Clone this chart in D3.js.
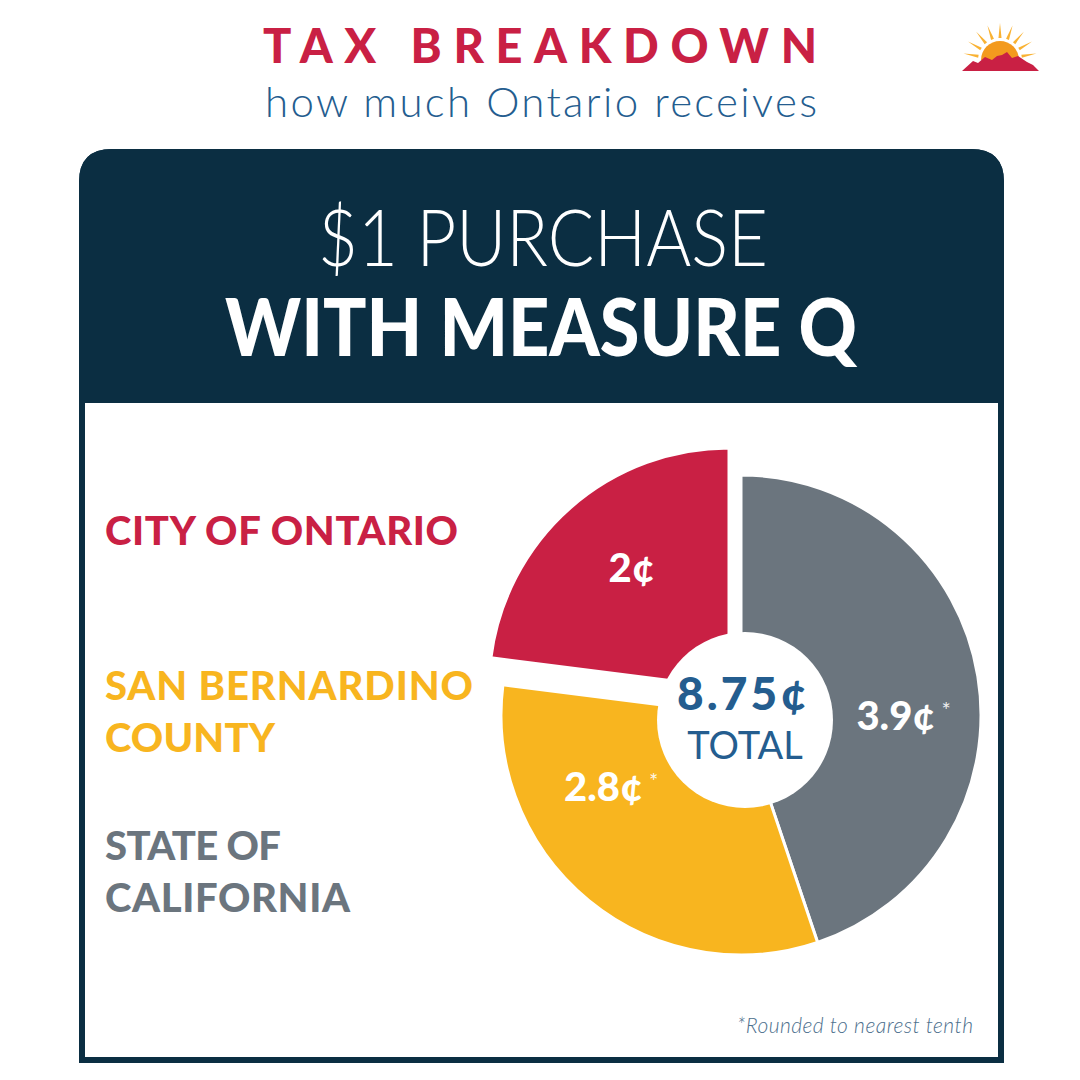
<!DOCTYPE html>
<html>
<head>
<meta charset="utf-8">
<script src="https://cdn.jsdelivr.net/npm/d3@7"></script>
<style>
  html, body { margin: 0; padding: 0; background: #fff; }
  svg { display: block; font-family: Lato, "Open Sans", sans-serif; }
</style>
</head>
<body>
<svg id="chart" width="1080" height="1080"></svg>
<script>
// chart data
var categories = ["STATE OF CALIFORNIA", "SAN BERNARDINO COUNTY", "CITY OF ONTARIO"];
var values = [3.9, 2.8, 2];
var valueLabels = ["3.9¢", "2.8¢", "2¢"];
var roundedFlags = [true, true, false];
var legendLines = [["CITY OF ONTARIO"], ["SAN BERNARDINO", "COUNTY"], ["STATE OF", "CALIFORNIA"]];
var legendKeys = ["CITY OF ONTARIO", "SAN BERNARDINO COUNTY", "STATE OF CALIFORNIA"];
var totalLabel = "8.75¢";
var totalWord = "TOTAL";
var titleText = "TAX BREAKDOWN";
var subtitleText = "how much Ontario receives";
var headLine1 = "$1 PURCHASE";
var headLine2 = "WITH MEASURE Q";
var footnote = "*Rounded to nearest tenth";

var RED = "#c92044", YELLOW = "#f8b51f", GRAY = "#6b757e", NAVY = "#0b2e42", BLUE = "#245d8f";

var color = d3.scaleOrdinal().domain(categories).range([GRAY, YELLOW, RED]);

var svg = d3.select("#chart");

// ---- title ----
svg.append("text")
  .attr("x", 263).attr("y", 63)
  .attr("textLength", 554).attr("lengthAdjust", "spacing")
  .attr("font-size", 47).attr("font-weight", 900)
  .attr("fill", RED)
  .text(titleText);

svg.append("text")
  .attr("x", 265).attr("y", 117)
  .attr("textLength", 552).attr("lengthAdjust", "spacing")
  .attr("font-size", 42).attr("font-weight", 300)
  .attr("fill", BLUE)
  .text(subtitleText);

// ---- logo (sun + mountains) ----
var logo = svg.append("g").attr("transform", "translate(1000,60)");
var rayAngles = d3.range(-80, 81, 20);
logo.selectAll("path.ray").data(rayAngles).enter().append("path")
  .attr("class", "ray")
  .attr("d", function(a) {
    var r = a * Math.PI / 180;
    var w = 0.07;
    var p = function(rad, ang) { return [rad * Math.sin(ang), -rad * Math.cos(ang)]; };
    var p1 = p(22, r - w), p2 = p(37, r), p3 = p(22, r + w);
    return "M" + p1 + "L" + p2 + "L" + p3 + "Z";
  })
  .attr("fill", "#f9b233");
logo.append("path")
  .attr("d", d3.arc()({innerRadius: 0, outerRadius: 19, startAngle: -Math.PI / 2, endAngle: Math.PI / 2}))
  .attr("fill", "#f39a1e");
logo.append("path")
  .attr("d", "M-38,11 L-27,1 L-22,3 L-15,-3 L-8,0 L-3,-4 L2,-5 L7,-8 L12,-2 L18,-4 L27,2 L33,5 L39,11 Z")
  .attr("fill", RED);

// ---- panel ----
var px0 = 82, px1 = 1001, py0 = 152, py1 = 1060, rad = 30, headBottom = 403;
svg.append("path")
  .attr("d", "M" + px0 + "," + py1 + " V" + (py0 + rad) +
    " Q" + px0 + "," + py0 + " " + (px0 + rad) + "," + py0 +
    " H" + (px1 - rad) + " Q" + px1 + "," + py0 + " " + px1 + "," + (py0 + rad) +
    " V" + py1 + " Z")
  .attr("fill", "#fff")
  .attr("stroke", NAVY)
  .attr("stroke-width", 6);
svg.append("path")
  .attr("d", "M" + (px0 - 3) + "," + headBottom + " V" + (py0 + rad) +
    " Q" + (px0 - 3) + "," + (py0 - 3) + " " + (px0 + rad) + "," + (py0 - 3) +
    " H" + (px1 - rad) + " Q" + (px1 + 3) + "," + (py0 - 3) + " " + (px1 + 3) + "," + (py0 + rad) +
    " V" + headBottom + " Z")
  .attr("fill", NAVY);

svg.append("text")
  .attr("x", 318).attr("y", 266)
  .attr("textLength", 450).attr("lengthAdjust", "spacingAndGlyphs")
  .attr("font-size", 78).attr("font-weight", 300)
  .attr("fill", "#fff")
  .text(headLine1);

svg.append("text")
  .attr("x", 225).attr("y", 356)
  .attr("textLength", 632).attr("lengthAdjust", "spacingAndGlyphs")
  .attr("font-size", 80).attr("font-weight", 900)
  .attr("fill", "#fff")
  .text(headLine2);

// ---- legend labels ----
var legendTop = [545, 700, 860];
var legendWidths = [[353], [368, 170], [176, 245]];
var legend = svg.append("g");
legendLines.forEach(function(lines, i) {
  lines.forEach(function(line, j) {
    legend.append("text")
      .attr("x", 105)
      .attr("y", legendTop[i] + j * 52)
      .attr("textLength", legendWidths[i][j]).attr("lengthAdjust", "spacing")
      .attr("font-size", 40).attr("font-weight", 900)
      .attr("fill", color(legendKeys[i]))
      .text(line);
  });
});

// ---- pie ----
var cx = 741, cy = 715, R = 240;
var pie = d3.pie().sort(null).value(function(d) { return d.value; });
var data = categories.map(function(c, i) {
  return {name: c, value: values[i], label: valueLabels[i], rounded: roundedFlags[i]};
});
var arcs = pie(data);
var arc = d3.arc().innerRadius(0).outerRadius(R);

// the city slice is pulled out of the pie
var explode = {"CITY OF ONTARIO": [-12, -27]};
var labelFrac = [0.56, 0.70, 0.53];
var labelR = 155;

var g = svg.append("g").attr("transform", "translate(" + cx + "," + cy + ")");
g.selectAll("path.slice").data(arcs).enter().append("path")
  .attr("class", "slice")
  .attr("d", arc)
  .attr("transform", function(d) {
    var o = explode[d.data.name] || [0, 0];
    return "translate(" + o[0] + "," + o[1] + ")";
  })
  .attr("fill", function(d) { return color(d.data.name); })
  .attr("stroke", "#fff")
  .attr("stroke-width", 3)
  .attr("stroke-linejoin", "round");

// centre hole
g.append("circle")
  .attr("cx", 4).attr("cy", 5)
  .attr("r", 88)
  .attr("fill", "#fff");

// slice labels
arcs.forEach(function(d, i) {
  var o = explode[d.data.name] || [0, 0];
  var a = d.startAngle + (d.endAngle - d.startAngle) * labelFrac[i];
  var x = o[0] + labelR * Math.sin(a);
  var y = o[1] - labelR * Math.cos(a);
  var t = g.append("text")
    .attr("x", x).attr("y", y)
    .attr("dy", "0.36em")
    .attr("text-anchor", "middle")
    .attr("font-size", 40).attr("font-weight", 900)
    .attr("fill", "#fff")
    .text(d.data.label);
  if (d.data.rounded) {
    var w = t.node().getComputedTextLength();
    g.append("text")
      .attr("x", x + w / 2 + 6).attr("y", y + 2)
      .attr("font-size", 22).attr("font-weight", 400)
      .attr("fill", "#fff").attr("fill-opacity", 0.9)
      .text("*");
  }
});

g.append("text")
  .attr("x", 1).attr("y", -5)
  .attr("textLength", 130).attr("lengthAdjust", "spacing")
  .attr("text-anchor", "middle")
  .attr("font-size", 46).attr("font-weight", 900)
  .attr("fill", BLUE)
  .text(totalLabel);
g.append("text")
  .attr("x", 4).attr("y", 44)
  .attr("text-anchor", "middle")
  .attr("font-size", 38).attr("font-weight", 400)
  .attr("fill", BLUE)
  .text(totalWord);

// ---- footnote ----
svg.append("text")
  .attr("x", 973).attr("y", 1033)
  .attr("text-anchor", "end")
  .attr("textLength", 236).attr("lengthAdjust", "spacing")
  .attr("font-size", 21).attr("font-style", "italic").attr("font-weight", 300)
  .attr("fill", "#4d6f8d")
  .text(footnote);
</script>
</body>
</html>
